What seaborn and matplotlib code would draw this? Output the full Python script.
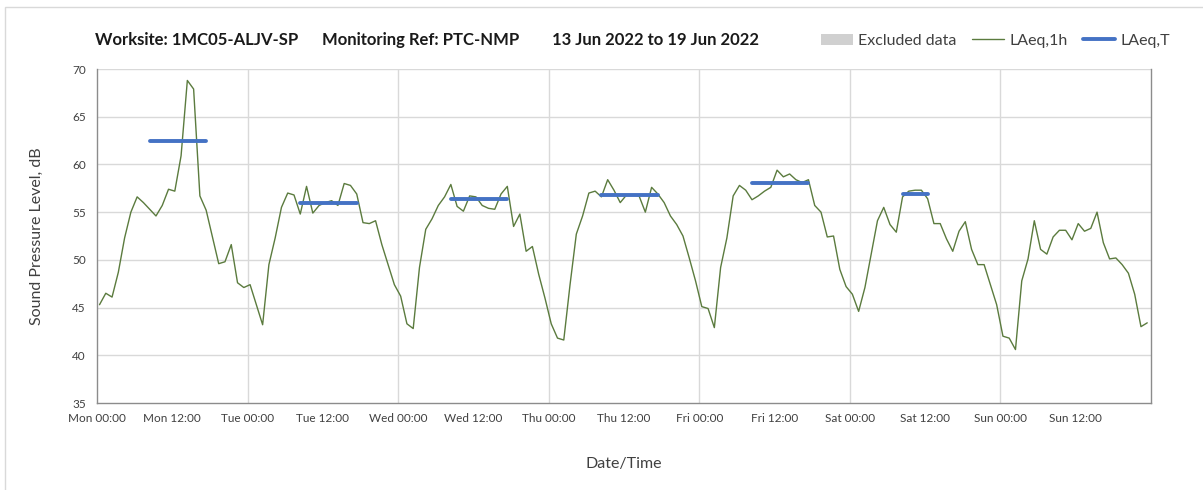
"""
Worksite noise monitoring chart: hourly LAeq and period LAeq,T for one week
"""

import numpy as np
import pandas as pd
import matplotlib
matplotlib.use('Agg')
import matplotlib.pyplot as plt
from matplotlib.patches import Patch, Rectangle
from matplotlib.lines import Line2D
import seaborn as sns

# hourly LAeq,1h values (dB), Mon 00:00 .. Sun 23:00
mon = [45.3, 46.5, 46.1, 48.7, 52.3, 55.0, 56.6, 56.0, 55.3, 54.6, 55.7, 57.4,
       57.2, 60.9, 68.8, 67.9, 56.7, 55.2, 52.4, 49.6, 49.8, 51.6, 47.6, 47.1]
tue = [47.4, 45.3, 43.2, 49.5, 52.3, 55.5, 57.0, 56.8, 54.8, 57.7, 54.9, 55.7,
       56.0, 56.2, 55.7, 58.0, 57.8, 56.9, 53.9, 53.8, 54.1, 51.6, 49.5, 47.4]
wed = [46.2, 43.3, 42.8, 49.2, 53.2, 54.3, 55.7, 56.6, 57.9, 55.6, 55.1, 56.7,
       56.6, 55.7, 55.4, 55.3, 56.9, 57.7, 53.5, 54.8, 50.9, 51.4, 48.5, 46.0]
thu = [43.3, 41.8, 41.6, 47.4, 52.7, 54.6, 57.0, 57.2, 56.6, 58.4, 57.3, 56.0,
       56.8, 56.8, 56.7, 55.0, 57.6, 56.9, 56.0, 54.6, 53.7, 52.5, 50.2, 47.8]
fri = [45.1, 44.9, 42.9, 49.2, 52.3, 56.7, 57.8, 57.3, 56.3, 56.7, 57.2, 57.6,
       59.4, 58.7, 59.0, 58.4, 58.1, 58.4, 55.7, 55.0, 52.4, 52.5, 49.0, 47.2]
sat = [46.4, 44.6, 47.1, 50.6, 54.1, 55.5, 53.7, 52.9, 56.6, 57.2, 57.3, 57.3,
       56.4, 53.8, 53.8, 52.2, 50.9, 53.0, 54.0, 51.1, 49.5, 49.5, 47.4, 45.3]
sun = [42.0, 41.8, 40.6, 47.8, 50.1, 54.1, 51.1, 50.6, 52.4, 53.1, 53.1, 52.1,
       53.8, 53.0, 53.3, 55.0, 51.8, 50.1, 50.2, 49.5, 48.6, 46.4, 43.0, 43.4]

# LAeq,T period values per day (hour of day where period starts / ends)
period_day = [0, 1, 2, 3, 4, 5]
period_start = [8, 8, 8, 8, 8, 8]
period_end = [17, 17, 17, 17, 17, 12]
period_level = [62.5, 56.0, 56.4, 56.8, 58.1, 56.9]

day_names = ['Mon', 'Tue', 'Wed', 'Thu', 'Fri', 'Sat', 'Sun']

title_parts = ['Worksite: 1MC05-ALJV-SP', 'Monitoring Ref: PTC-NMP',
               '13 Jun 2022 to 19 Jun 2022']

# long tables for seaborn
levels = mon + tue + wed + thu + fri + sat + sun
hourly = pd.DataFrame({'hour': np.arange(len(levels)) + 0.4, 'level': levels})

rows = []
for d, s, e, lv in zip(period_day, period_start, period_end, period_level):
    rows.append({'day': d, 'hour': d * 24 + s + 0.4, 'level': lv})
    rows.append({'day': d, 'hour': d * 24 + e + 0.4, 'level': lv})
periods = pd.DataFrame(rows)

sns.set_style('white')
plt.rcParams['font.family'] = ['Lato', 'DejaVu Sans']

fig = plt.figure(figsize=(12.03, 4.90), dpi=100)
ax = fig.add_axes([97 / 1203, 1 - 403 / 490, 1054 / 1203, 334 / 490])

GREEN = '#5B7B3E'
BLUE = '#4472C4'
GRID = '#d9d9d9'
AXIS = '#8c8c8c'
TEXT = '#404040'

sns.lineplot(data=hourly, x='hour', y='level', color=GREEN, lw=1.0, ax=ax)
sns.lineplot(data=periods, x='hour', y='level', units='day', estimator=None,
             color=BLUE, lw=2.8, ax=ax)

ax.set_xlim(0, 168)
ax.set_ylim(35, 70)
xt = np.arange(0, 169, 12)
ax.set_xticks(xt)
ax.set_xticklabels([f'{day_names[int(t // 24)]} {int(t % 24):02d}:00' if t < 168 else ''
                    for t in xt])
ax.set_yticks(np.arange(35, 71, 5))

# day gridlines and 5 dB gridlines
for t in range(24, 168, 24):
    ax.axvline(t, color=GRID, lw=1.0, zorder=0)
for v in range(40, 71, 5):
    ax.axhline(v, color=GRID, lw=1.0, zorder=0)

ax.spines['top'].set_visible(False)
for side in ['left', 'bottom', 'right']:
    ax.spines[side].set_color(AXIS)
    ax.spines[side].set_linewidth(1.0)

ax.tick_params(axis='both', direction='out', length=4, width=1.0,
               color=AXIS, labelsize=8.5, labelcolor=TEXT, pad=3)
ax.tick_params(axis='y', length=5)

ax.set_xlabel('Date/Time', fontsize=11.5, color=TEXT, labelpad=24)
ax.set_ylabel('Sound Pressure Level, dB', fontsize=11.5, color=TEXT, labelpad=20)

for x0, part in zip([95, 322, 552], title_parts):
    fig.text(x0 / 1203, 1 - 40 / 490, part, fontsize=12, fontweight='bold',
             color='#1a1a1a', va='center', ha='left')

handles = [Patch(facecolor='#d0d0d0', edgecolor='none'),
           Line2D([], [], color=GREEN, lw=1.0),
           Line2D([], [], color=BLUE, lw=2.8)]
fig.legend(handles, ['Excluded data', 'LAeq,1h', 'LAeq,T'],
           loc='center right', bbox_to_anchor=(1184 / 1203, 1 - 41 / 490),
           ncol=3, frameon=False, fontsize=11.5, handlelength=2.0,
           handletextpad=0.3, columnspacing=1.0, labelcolor=TEXT)

# chart-area border
fig.patches.append(Rectangle((5 / 1203, -0.02), 1.0, 1 - 7 / 490 + 0.02,
                             transform=fig.transFigure, fill=False,
                             edgecolor=GRID, lw=1.0))

fig.savefig('out.png', dpi=100)
